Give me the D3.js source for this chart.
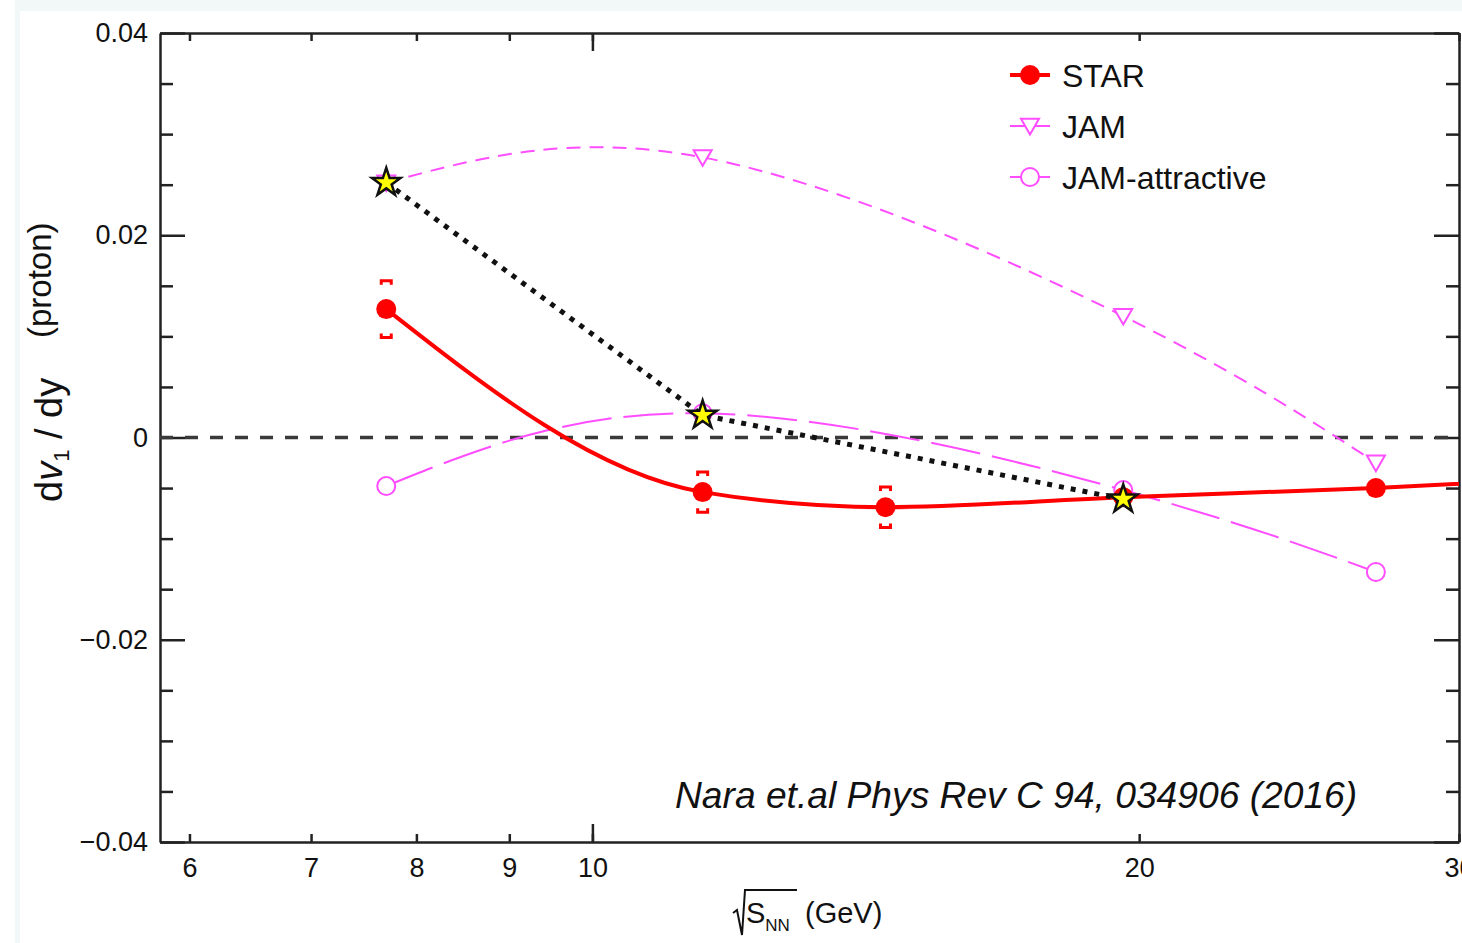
<html>
<head>
<meta charset="utf-8">
<script src="https://d3js.org/d3.v7.min.js"></script>
<style>
  body { margin: 0; background: #fff; }
  text { font-family: "Liberation Sans", Arial, Helvetica, sans-serif; }
</style>
</head>
<body>
<script>
const W = 1462, H = 943;

// STAR data, sqrt(sNN) in GeV
const starEnergy = [7.7, 11.5, 14.5, 19.6, 27, 39];
const starSlope  = [0.0127, -0.0054, -0.0069, -0.0059, -0.0050, -0.0035];
const starSys    = [0.0028, 0.0020, 0.0020, 0.0005, 0.0005, 0.0005];

// JAM model curves
const jamEnergy = [7.7, 11.5, 19.6, 27];
const jamSlope  = [0.0252, 0.0277, 0.0120, -0.0025];
const jamAttrSlope = [-0.0048, 0.0024, -0.0052, -0.0133];

// yellow stars (dotted line)
const otherEnergy = [7.7, 11.5, 19.6];
const otherSlope  = [0.0252, 0.0022, -0.0061];

// ticks
const xTicks = [6, 7, 8, 9, 10, 20, 30];
const xMajor = [10];
const yLabels = [-0.04, -0.02, 0, 0.02, 0.04];
const yMinor = [-0.035, -0.03, -0.025, -0.015, -0.01, -0.005, 0.005, 0.01, 0.015, 0.025, 0.03, 0.035];

const pLeft = 160, pRight = 1459, pTop = 33, pBottom = 842;

const svg = d3.select("body").append("svg")
  .attr("width", W).attr("height", H);

// light page frame like the screenshot
svg.append("rect").attr("x", 15).attr("y", 0).attr("width", W - 15).attr("height", H).attr("fill", "#f2f7f7");
svg.append("rect").attr("x", 20).attr("y", 11).attr("width", W - 20).attr("height", H - 11).attr("fill", "#fff");

const x = d3.scaleLog().domain([5.78, 30]).range([pLeft, pRight]);
const y = d3.scaleLinear().domain([-0.04, 0.04]).range([pBottom, pTop]);

svg.append("clipPath").attr("id", "plot")
  .append("rect").attr("x", pLeft).attr("y", pTop).attr("width", pRight - pLeft).attr("height", pBottom - pTop);

const fmt = d => d === 0 ? "0" : d3.format(".2f")(d);

function styleAxis(g) {
  g.selectAll("path, line").attr("stroke", "#222").attr("stroke-width", 2.5);
  g.selectAll("text").attr("fill", "#111").attr("font-size", 27);
}

// left axis
svg.append("g").attr("transform", `translate(${pLeft},0)`)
  .call(d3.axisLeft(y).tickValues(yLabels).tickSize(-25).tickSizeOuter(0).tickPadding(12).tickFormat(fmt))
  .call(styleAxis);
svg.append("g").attr("transform", `translate(${pLeft},0)`)
  .call(d3.axisLeft(y).tickValues(yMinor).tickSize(-13).tickSizeOuter(0).tickFormat(""))
  .call(styleAxis).call(g => g.select(".domain").remove());

// right axis
svg.append("g").attr("transform", `translate(${pRight},0)`)
  .call(d3.axisRight(y).tickValues(yLabels).tickSize(-25).tickSizeOuter(0).tickFormat(""))
  .call(styleAxis);
svg.append("g").attr("transform", `translate(${pRight},0)`)
  .call(d3.axisRight(y).tickValues(yMinor).tickSize(-13).tickSizeOuter(0).tickFormat(""))
  .call(styleAxis).call(g => g.select(".domain").remove());

// bottom axis
svg.append("g").attr("transform", `translate(0,${pBottom})`)
  .call(d3.axisBottom(x).tickValues(xTicks).tickSize(-8).tickSizeOuter(0).tickPadding(16).tickFormat(d3.format("d")))
  .call(styleAxis);
svg.append("g").attr("transform", `translate(0,${pBottom})`)
  .call(d3.axisBottom(x).tickValues(xMajor).tickSize(-18).tickSizeOuter(0).tickFormat(""))
  .call(styleAxis).call(g => g.select(".domain").remove());

// top axis
svg.append("g").attr("transform", `translate(0,${pTop})`)
  .call(d3.axisTop(x).tickValues(xTicks).tickSize(-8).tickSizeOuter(0).tickFormat(""))
  .call(styleAxis);
svg.append("g").attr("transform", `translate(0,${pTop})`)
  .call(d3.axisTop(x).tickValues(xMajor).tickSize(-18).tickSizeOuter(0).tickFormat(""))
  .call(styleAxis).call(g => g.select(".domain").remove());

const plot = svg.append("g").attr("clip-path", "url(#plot)");

// zero line
plot.append("line")
  .attr("x1", pLeft).attr("x2", pRight).attr("y1", y(0)).attr("y2", y(0))
  .attr("stroke", "#3a3a3a").attr("stroke-width", 3.5).attr("stroke-dasharray", "13,12");

const pink = "#ff4dff";

const line = d3.line().x(d => x(d[0])).y(d => y(d[1])).curve(d3.curveNatural);
const starLine = d3.line().x(d => x(d[0])).y(d => y(d[1])).curve(d3.curveMonotoneX);

// JAM
plot.append("path")
  .attr("d", line(d3.zip(jamEnergy, jamSlope)))
  .attr("fill", "none").attr("stroke", pink).attr("stroke-width", 2).attr("stroke-dasharray", "14,9");
// JAM-attractive
plot.append("path")
  .attr("d", line(d3.zip(jamEnergy, jamAttrSlope)))
  .attr("fill", "none").attr("stroke", pink).attr("stroke-width", 2).attr("stroke-dasharray", "50,12");

const triDown = d3.symbol().type(d3.symbolTriangle).size(140);

plot.selectAll(".jam").data(d3.zip(jamEnergy, jamSlope)).join("path")
  .attr("transform", d => `translate(${x(d[0])},${y(d[1]) - 2}) rotate(180)`)
  .attr("d", triDown()).attr("fill", "white").attr("stroke", pink).attr("stroke-width", 2);

plot.selectAll(".jamA").data(d3.zip(jamEnergy, jamAttrSlope)).join("circle")
  .attr("cx", d => x(d[0])).attr("cy", d => y(d[1])).attr("r", 9)
  .attr("fill", "white").attr("stroke", pink).attr("stroke-width", 2);

// STAR curve
plot.append("path")
  .attr("d", starLine(d3.zip(starEnergy, starSlope)))
  .attr("fill", "none").attr("stroke", "#ff0000").attr("stroke-width", 4);

// systematic brackets
const starPts = d3.zip(starEnergy, starSlope, starSys);
plot.selectAll(".brTop").data(starPts).join("path")
  .attr("d", d => {
    const cx = x(d[0]), yt = y(d[1] + d[2]), yb = y(d[1] - d[2]);
    return `M${cx - 5},${yt + 4}V${yt}H${cx + 5}V${yt + 4}` +
           `M${cx - 5},${yb - 4}V${yb}H${cx + 5}V${yb - 4}`;
  })
  .attr("fill", "none").attr("stroke", "#ff0000").attr("stroke-width", 3);

plot.selectAll(".star").data(starPts).join("circle")
  .attr("cx", d => x(d[0])).attr("cy", d => y(d[1])).attr("r", 10)
  .attr("fill", "#ff0000");

// dotted line with yellow stars
plot.append("path")
  .attr("d", d3.line().x(d => x(d[0])).y(d => y(d[1]))(d3.zip(otherEnergy, otherSlope)))
  .attr("fill", "none").attr("stroke", "#111").attr("stroke-width", 5).attr("stroke-dasharray", "5,7");

const starSym = d3.symbol().type(d3.symbolStar).size(250);
plot.selectAll(".ystar").data(d3.zip(otherEnergy, otherSlope)).join("path")
  .attr("transform", d => `translate(${x(d[0])},${y(d[1])})`)
  .attr("d", starSym()).attr("fill", "#ffff00").attr("stroke", "#111").attr("stroke-width", 2.5)
  .attr("stroke-linejoin", "miter");

// legend
const leg = svg.append("g");
const legX0 = 1010, legX1 = 1050, legMid = 1030, legText = 1062;
const legY = [75, 126, 177];
leg.append("line").attr("x1", legX0).attr("x2", legX1).attr("y1", legY[0]).attr("y2", legY[0])
  .attr("stroke", "#ff0000").attr("stroke-width", 4);
leg.append("circle").attr("cx", legMid).attr("cy", legY[0]).attr("r", 10).attr("fill", "#ff0000");
leg.append("line").attr("x1", legX0).attr("x2", legX1).attr("y1", legY[1]).attr("y2", legY[1])
  .attr("stroke", pink).attr("stroke-width", 2);
leg.append("path").attr("transform", `translate(${legMid},${legY[1] - 2}) rotate(180)`)
  .attr("d", triDown()).attr("fill", "white").attr("stroke", pink).attr("stroke-width", 2);
leg.append("line").attr("x1", legX0).attr("x2", legX1).attr("y1", legY[2]).attr("y2", legY[2])
  .attr("stroke", pink).attr("stroke-width", 2);
leg.append("circle").attr("cx", legMid).attr("cy", legY[2]).attr("r", 9)
  .attr("fill", "white").attr("stroke", pink).attr("stroke-width", 2);
const legNames = ["STAR", "JAM", "JAM-attractive"];
leg.selectAll("text").data(legNames).join("text")
  .attr("x", legText).attr("y", (d, i) => legY[i] + 12)
  .attr("font-size", 32).attr("fill", "#111").text(d => d);

// y title
const yt = svg.append("text").attr("transform", "translate(62,502) rotate(-90)")
  .attr("font-size", 38).attr("fill", "#111");
yt.append("tspan").text("d");
yt.append("tspan").attr("font-style", "italic").text("v");
yt.append("tspan").attr("font-size", 22).attr("dy", 7).text("1");
yt.append("tspan").attr("dy", -7).text(" / dy");
svg.append("text").attr("transform", "translate(51,338) rotate(-90)")
  .attr("font-size", 33).attr("fill", "#111").text("(proton)");

// x title
svg.append("path")
  .attr("d", "M733,913L737,910L742,935L745,890H797")
  .attr("fill", "none").attr("stroke", "#111").attr("stroke-width", 2);
const xt = svg.append("text").attr("x", 746).attr("y", 923).attr("font-size", 29).attr("fill", "#111");
xt.append("tspan").text("S");
xt.append("tspan").attr("font-size", 17).attr("dy", 8).text("NN");
xt.append("tspan").attr("x", 805).attr("dy", -8).text("(GeV)");

// citation
svg.append("text").attr("x", 675).attr("y", 808)
  .attr("font-size", 37.2).attr("font-style", "italic").attr("fill", "#111")
  .text("Nara et.al Phys Rev C 94, 034906 (2016)");
</script>
</body>
</html>
